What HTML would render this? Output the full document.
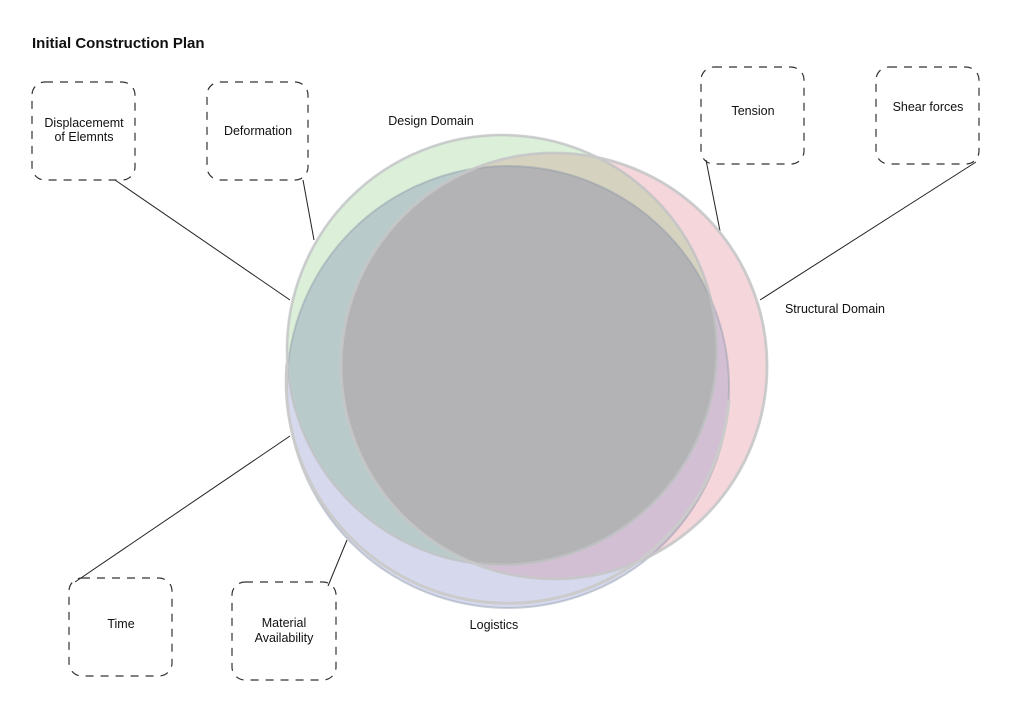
<!DOCTYPE html>
<html><head><style>body{margin:0;background:#fff}svg{display:block}text{font-family:"Liberation Sans",sans-serif;fill:#111}</style></head>
<body>
<svg width="1024" height="724" viewBox="0 0 1024 724" xmlns="http://www.w3.org/2000/svg">
<defs>
<clipPath id="cg"><circle cx="502" cy="350" r="215"/></clipPath>
<clipPath id="cr"><circle cx="554" cy="366" r="213"/></clipPath>
<clipPath id="cb"><circle cx="508" cy="387" r="221"/></clipPath>
</defs>
<text x="32" y="48" font-size="15" font-weight="bold">Initial Construction Plan</text>
<g stroke="#222" stroke-width="1" fill="none">
<line x1="115" y1="180" x2="290" y2="300"/>
<line x1="303" y1="180" x2="314" y2="240"/>
<line x1="706" y1="160" x2="720" y2="231"/>
<line x1="976" y1="162" x2="760" y2="300"/>
<line x1="75" y1="582" x2="290" y2="436"/>
<line x1="328" y1="586" x2="347" y2="540"/>
</g>
<g stroke="#333" stroke-width="1.2" fill="none" stroke-dasharray="8,7">
<rect x="32" y="82" width="103" height="98" rx="13"/>
<rect x="207" y="82" width="101" height="98" rx="13"/>
<rect x="701" y="67" width="103" height="97" rx="13"/>
<rect x="876" y="67" width="103" height="97" rx="13"/>
<rect x="69" y="578" width="103" height="98" rx="13"/>
<rect x="232" y="582" width="104" height="98" rx="13"/>
</g>
<g font-size="12.5" text-anchor="middle">
<text x="84" y="127">Displacememt</text><text x="84" y="141">of Elemnts</text>
<text x="258" y="135">Deformation</text>
<text x="753" y="115">Tension</text>
<text x="928" y="111">Shear forces</text>
<text x="121" y="628">Time</text>
<text x="284" y="627">Material</text><text x="284" y="642">Availability</text>
<text x="431" y="125">Design Domain</text>
<text x="835" y="313">Structural Domain</text>
<text x="494" y="629">Logistics</text>
</g>
<circle cx="508" cy="387" r="221" fill="#d6d9ed"/>
<circle cx="554" cy="366" r="213" fill="#f5d6db"/>
<circle cx="502" cy="350" r="215" fill="#dcefd8"/>
<g clip-path="url(#cb)"><circle cx="554" cy="366" r="213" fill="#d3bfd3"/><circle cx="502" cy="350" r="215" fill="#b8cbca"/></g>
<g clip-path="url(#cr)"><circle cx="502" cy="350" r="215" fill="#d5d2bf"/></g>
<g clip-path="url(#cb)"><g clip-path="url(#cr)"><circle cx="502" cy="350" r="215" fill="#b3b3b5"/></g></g>
<g fill="none" stroke="#8f9aa8" stroke-opacity="0.45" stroke-width="2">
<circle cx="508" cy="387" r="221"/><circle cx="554" cy="366" r="213"/><circle cx="502" cy="350" r="215"/>
</g>
<g fill="none" stroke="#cbcbcb" stroke-width="3">
<path d="M287 363 A221 221 0 0 0 729 400"/>
</g>
<circle cx="554" cy="366" r="213" fill="none" stroke="#cbcbcb" stroke-width="3" clip-path="none" stroke-dasharray="0" opacity="0.8"/>
<circle cx="502" cy="350" r="215" fill="none" stroke="#cbcbcb" stroke-width="3" opacity="0.6"/>
</svg>
</body></html>
